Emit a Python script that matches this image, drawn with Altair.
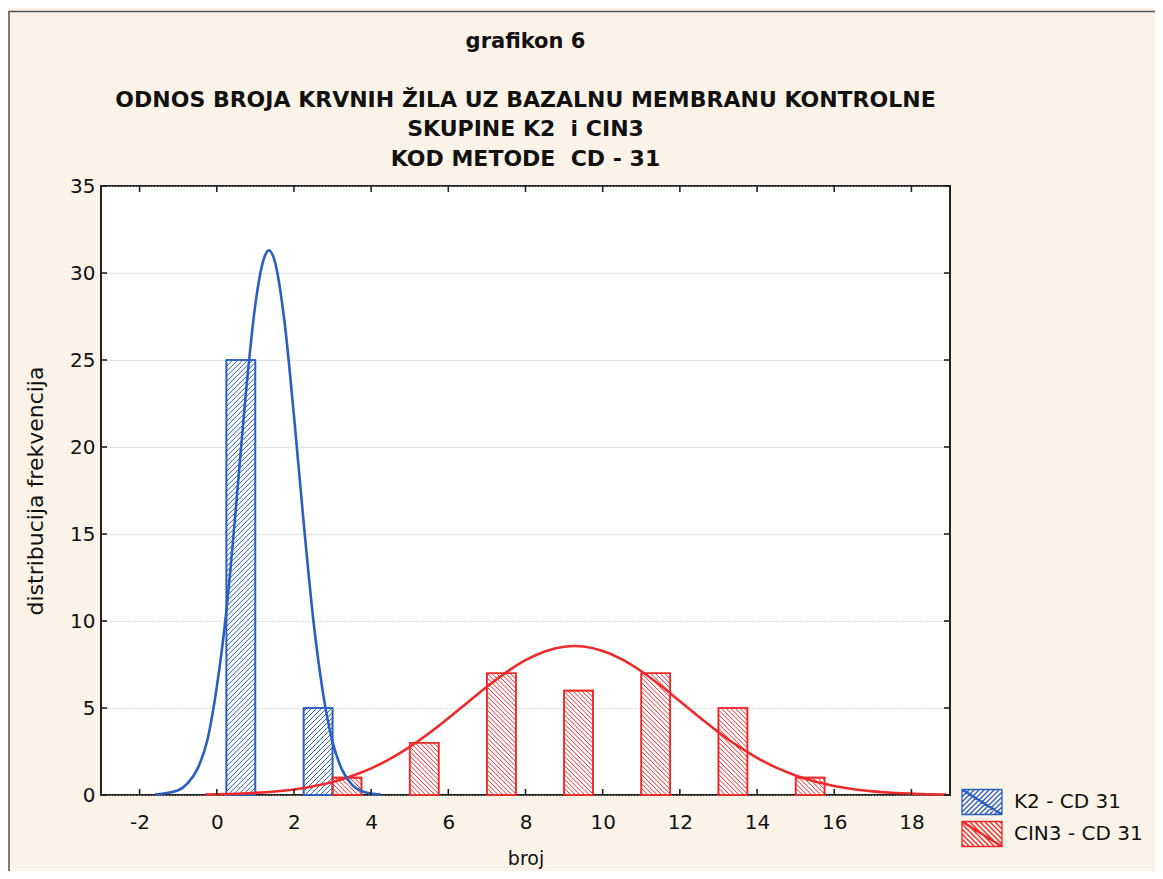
import altair as alt
import pandas as pd

# ---------------- data ----------------
series_names = ["K2 - CD 31", "CIN3 - CD 31"]
series_colors = ["#2A5FBE", "#EE2B2B"]

k2_bins = [1, 3]
k2_counts = [25, 5]
cin3_bins = [3, 5, 7, 9, 11, 13, 15]
cin3_counts = [1, 3, 7, 6, 7, 5, 1]

k2_curve_x = [-1.6, -1.0, -0.75, -0.5, -0.25, 0.0, 0.25, 0.5, 0.75, 1.0, 1.25, 1.35,
              1.5, 1.75, 2.0, 2.25, 2.5, 2.75, 3.0, 3.25, 3.5, 3.75, 4.0, 4.25]
k2_curve_y = [0.02, 0.27, 0.68, 1.5, 3.1, 6.2, 10.6, 16.6, 23.0, 28.2, 31.0, 31.3,
              30.7, 27.3, 21.8, 15.7, 10.1, 5.9, 3.05, 1.43, 0.6, 0.23, 0.08, 0.02]

cin3_curve_x = [-0.3, 0.5, 1.0, 1.5, 2.0, 2.5, 3.0, 3.5, 4.0, 4.5, 5.0, 5.5, 6.0, 6.5,
                7.0, 7.5, 8.0, 8.5, 9.0, 9.27, 9.5, 10.0, 10.5, 11.0, 11.5, 12.0, 12.5,
                13.0, 13.5, 14.0, 14.5, 15.0, 15.5, 16.0, 16.5, 17.0, 17.5, 18.0, 18.5, 18.9]
cin3_curve_y = [0.03, 0.07, 0.12, 0.2, 0.32, 0.5, 0.75, 1.09, 1.53, 2.09, 2.77, 3.55, 4.41,
                5.32, 6.22, 7.05, 7.75, 8.25, 8.52, 8.56, 8.53, 8.28, 7.79, 7.11, 6.29, 5.39,
                4.48, 3.61, 2.82, 2.14, 1.57, 1.12, 0.77, 0.52, 0.33, 0.21, 0.13, 0.08, 0.04, 0.03]

x_ticks = [-2, 0, 2, 4, 6, 8, 10, 12, 14, 16, 18]
y_ticks = [0, 5, 10, 15, 20, 25, 30, 35]
x_domain = [-3, 19]
y_domain = [0, 35]

NB = "\u00a0"
title_text = "grafikon 6"
subtitle_lines = ["ODNOS BROJA KRVNIH ŽILA UZ BAZALNU MEMBRANU KONTROLNE",
                  "SKUPINE K2" + NB + " i CIN3",
                  "KOD METODE" + NB + " CD - 31"]
x_title = "broj"
y_title = "distribucija frekvencija"

# ---------------- layout / style ----------------
W, H = 849, 609
PAD = {"left": 93, "top": 178, "right": 205, "bottom": 76}
FONT = "DejaVu Sans"
BG = "#FBF3E8"
BAR_W = 0.75
KX = W / (x_domain[1] - x_domain[0])
KY = H / (y_domain[1] - y_domain[0])


def hatch(x0, x1, h, spacing, direction):
    """diagonal hatch segments clipped to a bar, 45 degrees in pixel space"""
    wp, hp = (x1 - x0) * KX, h * KY
    segs = []
    if direction == "/":
        c = -wp + spacing / 2
        while c < hp:
            u0, u1 = max(0.0, -c), min(wp, hp - c)
            if u1 > u0:
                segs.append((x0 + u0 / KX, (u0 + c) / KY, x0 + u1 / KX, (u1 + c) / KY))
            c += spacing
    else:
        c = spacing / 2
        while c < hp + wp:
            u0, u1 = max(0.0, c - hp), min(wp, c)
            if u1 > u0:
                segs.append((x0 + u0 / KX, (c - u0) / KY, x0 + u1 / KX, (c - u1) / KY))
            c += spacing
    return segs


def bars_df(bins, counts, left):
    rows = []
    for b, n in zip(bins, counts):
        x0 = b - BAR_W if left else b
        rows.append({"x0": x0, "x1": x0 + BAR_W, "n": n})
    return pd.DataFrame(rows)


k2_bars = bars_df(k2_bins, k2_counts, True)
cin3_bars = bars_df(cin3_bins, cin3_counts, False)


def hatch_df(bars, spacing, direction):
    segs = []
    for _, r in bars.iterrows():
        segs += hatch(r.x0, r.x1, r.n, spacing, direction)
    return pd.DataFrame(segs, columns=["xa", "ya", "xb", "yb"])


k2_hatch = hatch_df(k2_bars, 5.0, "/")
cin3_hatch = hatch_df(cin3_bars, 4.6, "\\")

xs = alt.Scale(domain=x_domain, nice=False, zero=False)
ys = alt.Scale(domain=y_domain, nice=False, zero=False)

x_axis = alt.Axis(values=x_ticks, title=x_title, grid=False, ticks=False, domain=False,
                  labelPadding=17, labelFontSize=20, labelFont=FONT, labelColor="#111",
                  labelExpr="datum.value",
                  titleFontSize=19, titleFont=FONT, titleFontWeight="normal", titleColor="#111",
                  titleX=W / 2, titleY=63, titleBaseline="middle", labelFlush=False)
y_axis = alt.Axis(values=y_ticks, title=y_title, grid=True, gridDash=[1, 2], gridColor="#b8b8b8",
                  gridWidth=1, ticks=False, domain=False, labelPadding=6, labelFontSize=20,
                  labelFont=FONT, labelColor="#111", titleFontSize=22, titleFont=FONT,
                  titleFontWeight="normal", titleColor="#111", titleAngle=270,
                  titleX=-66, titleY=H / 2, titleBaseline="middle", titleAlign="center",
                  labelFlush=False)


def X(field):
    return alt.X(field, scale=xs, axis=x_axis)


def Y(field):
    return alt.Y(field, scale=ys, axis=y_axis)


def bar_layer(bars, color):
    return alt.Chart(bars).mark_rect(fill="white", stroke=color, strokeWidth=1.6).encode(
        x=X("x0:Q"), x2="x1:Q", y=Y("n:Q"), y2=alt.datum(0))


def hatch_layer(df, color):
    return alt.Chart(df).mark_rule(color=color, strokeWidth=1.0).encode(
        x=X("xa:Q"), x2="xb:Q", y=Y("ya:Q"), y2="yb:Q")


def outline_layer(bars, color):
    return alt.Chart(bars).mark_rect(fill=None, stroke=color, strokeWidth=1.6).encode(
        x=X("x0:Q"), x2="x1:Q", y=Y("n:Q"), y2=alt.datum(0))


def curve_layer(cx, cy, color):
    df = pd.DataFrame({"x": cx, "y": cy})
    return alt.Chart(df).mark_line(color=color, strokeWidth=2.6, interpolate="monotone").encode(
        x=X("x:Q"), y=Y("y:Q"))


# ---------- legend symbols (custom hatched swatch paths) ----------
SYM = 28                      # nominal symbol side (px)
SW_W, SW_H = 40, 25           # swatch size (px)


def swatch_path(direction):
    k = SYM / 2.0
    ax, a = SW_W / 2 / k, SW_H / 2 / k
    s = 5.0 / k
    parts = [f"M{-ax:.3f},{-a:.3f}L{ax:.3f},{-a:.3f}L{ax:.3f},{a:.3f}L{-ax:.3f},{a:.3f}Z"]
    c = -ax - a + s / 2
    while c < ax + a:
        if direction == "/":
            xa, xb = max(-ax, c - a), min(ax, c + a)
            if xb > xa:
                parts.append(f"M{xa:.3f},{c - xa:.3f}L{xb:.3f},{c - xb:.3f}")
        else:
            xa, xb = max(-ax, -a - c), min(ax, a - c)
            if xb > xa:
                parts.append(f"M{xa:.3f},{xa + c:.3f}L{xb:.3f},{xb + c:.3f}")
        c += s
    sl = a / ax
    d = 0.08
    parts.append(f"M{-ax:.3f},{-a:.3f}L{ax:.3f},{a:.3f}")
    parts.append(f"M{-ax + d:.3f},{-a:.3f}L{ax:.3f},{a - d * sl:.3f}")
    parts.append(f"M{-ax:.3f},{-a + d * sl:.3f}L{ax - d:.3f},{a:.3f}")
    return "".join(parts)


legend_props = dict(title=None, orient="none", legendX=866, legendY=601,
                    symbolSize=SYM * SYM, symbolStrokeWidth=1.3,
                    symbolFillColor="transparent", labelFontSize=20,
                    labelFont=FONT, labelColor="#111", labelOffset=17,
                    rowPadding=0, padding=0, symbolOpacity=1)

legend_df = pd.DataFrame({"series": series_names,
                          "x": [k2_bins[0], cin3_bins[0]],
                          "y": [k2_counts[0], cin3_counts[0]]})
legend_layer = alt.Chart(legend_df).mark_point(size=0, filled=False).encode(
    x=X("x:Q"),
    y=Y("y:Q"),
    color=alt.Color("series:N", scale=alt.Scale(domain=series_names, range=series_colors),
                    legend=alt.Legend(**legend_props)),
    shape=alt.Shape("series:N", scale=alt.Scale(domain=series_names,
                                                range=[swatch_path("/"), swatch_path("\\")]),
                    legend=alt.Legend(**legend_props)),
)

# ---------- inward ticks (driven by tick arrays through the scales) ----------
xt = pd.DataFrame({"t": x_ticks})
yt = pd.DataFrame({"t": y_ticks})
TICK = 6
tick_style = dict(color="#222", strokeWidth=1.6)
ticks = [
    alt.Chart(xt).mark_rule(**tick_style).encode(x=X("t:Q"), y=alt.value(H), y2=alt.value(H - TICK)),
    alt.Chart(xt).mark_rule(**tick_style).encode(x=X("t:Q"), y=alt.value(0), y2=alt.value(TICK)),
    alt.Chart(yt).mark_rule(**tick_style).encode(y=Y("t:Q"), x=alt.value(0), x2=alt.value(TICK)),
    alt.Chart(yt).mark_rule(**tick_style).encode(y=Y("t:Q"), x=alt.value(W), x2=alt.value(W - TICK)),
]

# outer figure frame (decoration)
FRAME_TOP = -174.5
frame = alt.Chart(pd.DataFrame({"a": [0]})).mark_rect(fill=None, stroke="#555", strokeWidth=1.5).encode(
    x=alt.value(-92), y=alt.value(FRAME_TOP), x2=alt.value(W + 400), y2=alt.value(H + 400))

chart = alt.layer(
    bar_layer(k2_bars, series_colors[0]),
    bar_layer(cin3_bars, series_colors[1]),
    hatch_layer(k2_hatch, series_colors[0]),
    hatch_layer(cin3_hatch, series_colors[1]),
    outline_layer(k2_bars, series_colors[0]),
    outline_layer(cin3_bars, series_colors[1]),
    curve_layer(cin3_curve_x, cin3_curve_y, series_colors[1]),
    curve_layer(k2_curve_x, k2_curve_y, series_colors[0]),
    legend_layer,
    *ticks,
    frame,
).properties(
    width=W, height=H,
    padding=PAD,
    autosize=alt.AutoSizeParams(type="none"),
    background=BG,
    title=alt.TitleParams(text=title_text, subtitle=subtitle_lines,
                          font=FONT, fontSize=21, fontWeight="bold", color="#111",
                          subtitleFont=FONT, subtitleFontSize=22, subtitleFontWeight="bold",
                          subtitleColor="#111", subtitleLineHeight=29.5, subtitlePadding=38,
                          anchor="middle", offset=FRAME_TOP - 0.75 + 16.5, frame="group"),
).configure_view(fill="white", stroke="#222", strokeWidth=2)

chart.save("out.html", embed_options={"renderer": "svg", "actions": False})
